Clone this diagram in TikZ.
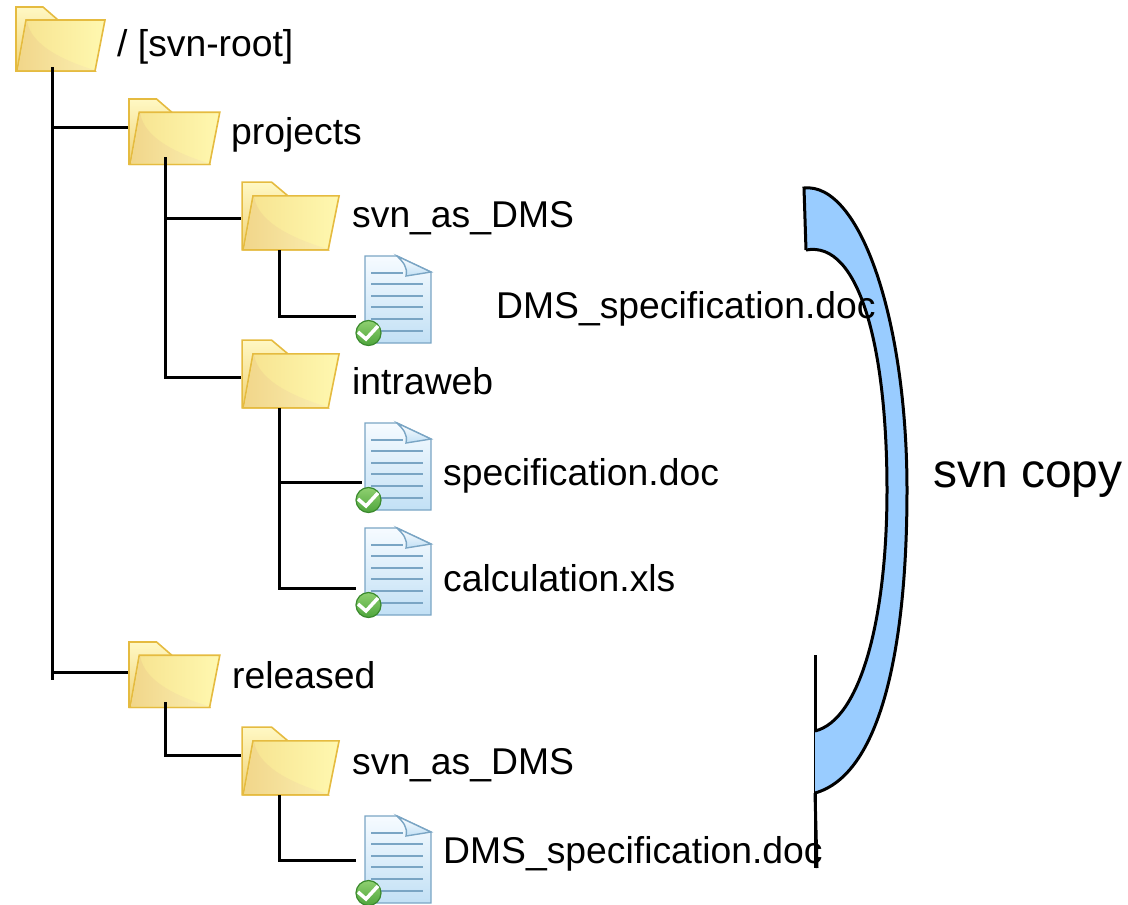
\documentclass[tikz,border=0pt]{standalone}
\usepackage{fontspec}
\setmainfont{Liberation Sans}
\definecolor{folderedge}{HTML}{E5BB40}
\definecolor{backtop}{HTML}{FFF8C4}
\definecolor{backbottom}{HTML}{F0D274}
\definecolor{frontleft}{HTML}{F6E28E}
\definecolor{frontright}{HTML}{FFF8B0}
\definecolor{swooshleft}{HTML}{F1D68A}
\definecolor{swooshright}{HTML}{FAEEB0}
\definecolor{docedge}{HTML}{7AA5C4}
\definecolor{doctop}{HTML}{F6FBFF}
\definecolor{docbottom}{HTML}{C2E0F5}
\definecolor{badgetop}{HTML}{8FD070}
\definecolor{badgebottom}{HTML}{4EA53C}
\definecolor{badgeedge}{HTML}{3B8A2E}
\definecolor{arcblue}{HTML}{99CCFF}
\tikzset{
    wire/.style={black,line width=3pt},
    name text/.style={anchor=base west,inner sep=0pt,font=\fontsize{37.3}{40}\selectfont},
    folder/.pic={
        \draw [folderedge,line width=1.6pt,top color=backtop,bottom color=backbottom]
            (1,1) -- (28,1) -- (43,14) -- (80,65) -- (1,65) -- cycle;
        \draw [folderedge,line width=1.6pt,left color=frontleft,right color=frontright]
            (11,14) -- (90,14) -- (80,65) -- (2,65) -- cycle;
        \shade [left color=swooshleft,right color=swooshright]
            (12,15) .. controls (16,40) and (50,55) .. (79,64) -- (3,64) -- cycle;
    },
    document/.pic={
        \draw [docedge,line width=1.4pt,top color=doctop,bottom color=docbottom]
            (0,0) -- (32,0) -- (66,16) -- (66,87) -- (0,87) -- cycle;
        \draw [docedge,line width=1.4pt,top color=white,bottom color=docbottom]
            (32,0) .. controls (38,6) and (43,11) .. (41,20) -- (66,16) -- cycle;
        \draw [docedge,line width=1.4pt] (6,17) -- (38,17);
        \foreach \y in {28,40,51,63,75}
            \draw [docedge,line width=1.4pt] (6,\y) -- (58,\y);
        % Check badge
        \draw [badgeedge,line width=1.2pt,top color=badgetop,bottom color=badgebottom]
            (3.5,77) circle [radius=12.5];
        \draw [white,line width=3.5pt] (-7,76) -- (1,83) -- (13,70);
    },
}
\begin{document}
\begin{tikzpicture}[x=1pt,y=-1pt]
    \useasboundingbox (0,0) rectangle (1128,905);

    % Helper points (imaginary)
    \coordinate (rootstem) at (52,67);
    \coordinate (rootend) at (52,680);
    \coordinate (projectsin) at (128,127);
    \coordinate (releasedin) at (128,672);
    \coordinate (projectsstem) at (165,157);
    \coordinate (svnin) at (241,218);
    \coordinate (intrawebin) at (241,377);
    \coordinate (svnstem) at (279,250);
    \coordinate (svndocin) at (356,316);
    \coordinate (intrawebstem) at (279,408);
    \coordinate (specin) at (362,482);
    \coordinate (calcin) at (356,588);
    \coordinate (releasedstem) at (165,702);
    \coordinate (relsvnin) at (241,755);
    \coordinate (relsvnstem) at (279,795);
    \coordinate (reldocin) at (356,860);
    \coordinate (copytop) at (815,655);
    \coordinate (copybottom) at (815,868);
    \coordinate (arcend) at (815,793);
    \coordinate (arcfoot) at (817,868);

    % Folders
    \pic at (15,6) {folder};
    \pic [xscale=1.02,yscale=1.02] at (128,98) {folder};
    \pic [xscale=1.09,yscale=1.06] at (241,181) {folder};
    \pic [xscale=1.09,yscale=1.06] at (241,339) {folder};
    \pic [xscale=1.02,yscale=1.02] at (128,641) {folder};
    \pic [xscale=1.09,yscale=1.06] at (241,726) {folder};

    % Documents
    \pic at (365,256) {document};
    \pic at (365,423) {document};
    \pic at (365,528) {document};
    \pic at (365,816) {document};

    % Tree
    \draw [wire] (rootstem) -- (rootend);
    \draw [wire] (rootstem) |- (projectsin);
    \draw [wire] (rootstem) |- (releasedin);
    \draw [wire] (projectsstem) |- (svnin);
    \draw [wire] (projectsstem) |- (intrawebin);
    \draw [wire] (svnstem) |- (svndocin);
    \draw [wire] (intrawebstem) |- (specin);
    \draw [wire] (intrawebstem) |- (calcin);
    \draw [wire] (releasedstem) |- (relsvnin);
    \draw [wire] (relsvnstem) |- (reldocin);

    % svn copy
    \draw [wire] (copytop) -- (copybottom);
    \draw [wire] (arcend) -- (arcfoot);
    \fill [arcblue] (804,188)
        .. controls (860,182) and (907,320) .. (907,490)
        .. controls (907,650) and (880,775) .. (arcend)
        -- (815,731)
        .. controls (860,720) and (887,620) .. (887,490)
        .. controls (887,350) and (860,240) .. (806,250)
        -- cycle;
    \draw [wire] (806,250) -- (804,188)
        .. controls (860,182) and (907,320) .. (907,490)
        .. controls (907,650) and (880,775) .. (arcend);
    \draw [wire] (815,731)
        .. controls (860,720) and (887,620) .. (887,490)
        .. controls (887,350) and (860,240) .. (806,250);

    % Labels
    \node (roottext) [name text] at (117,56) {/ [svn-root]};
    \node (projectstext) [name text] at (231,144) {projects};
    \node (svntext) [name text] at (352,227) {svn\_as\_DMS};
    \node (svndoctext) [name text] at (496,318) {DMS\_specification.doc};
    \node (intrawebtext) [name text] at (352,394) {intraweb};
    \node (spectext) [name text] at (443,485) {specification.doc};
    \node (calctext) [name text] at (443,591) {calculation.xls};
    \node (releasedtext) [name text] at (232,688) {released};
    \node (relsvntext) [name text] at (352,774) {svn\_as\_DMS};
    \node (reldoctext) [name text] at (443,863) {DMS\_specification.doc};
    \node (copytext) [name text,font=\fontsize{48}{50}\selectfont] at (933,487) {svn copy};
\end{tikzpicture}
\end{document}
